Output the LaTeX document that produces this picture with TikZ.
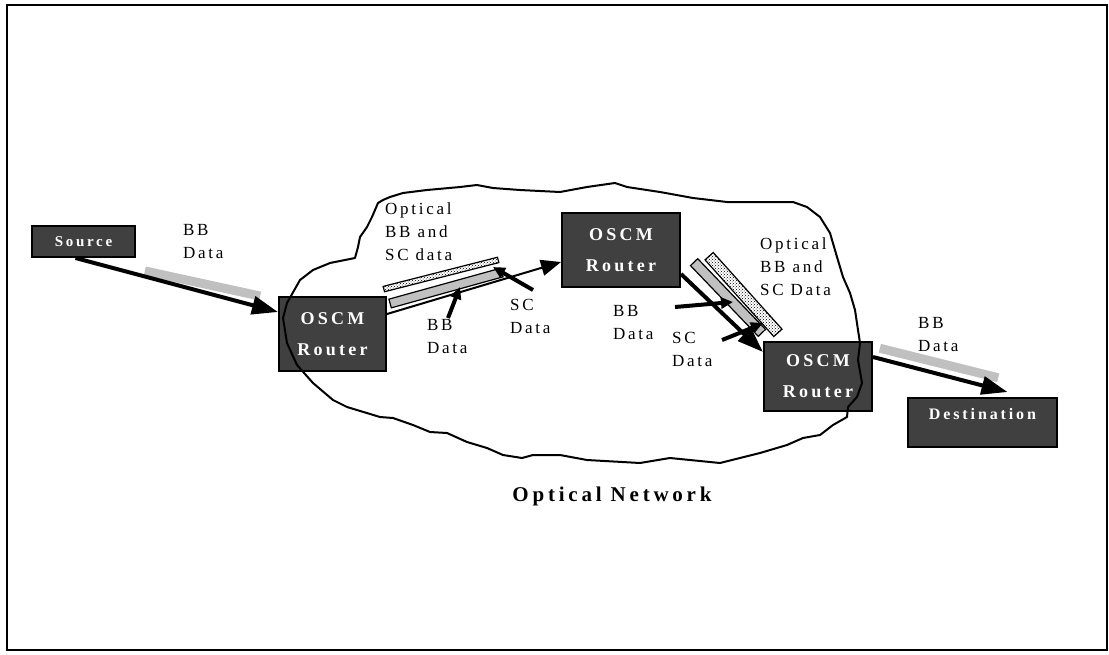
\documentclass[tikz,border=0pt]{standalone}
\usepackage{fontspec}
\setmainfont{Liberation Serif}
\newfontfamily\lblfont[LetterSpace=16]{Liberation Serif}
\newfontfamily\boxfont[LetterSpace=18]{Liberation Serif}
\usetikzlibrary{arrows.meta}
\usetikzlibrary{patterns}
\definecolor{boxgray}{HTML}{404040}
\definecolor{bargray}{HTML}{C0C0C0}

\begin{document}
\begin{tikzpicture}[x=1pt,y=-1pt,
  router/.style={draw=black, line width=2pt, fill=boxgray, text=white, inner sep=0pt, align=center, font=\boxfont\bfseries\fontsize{18}{31}\selectfont},
  lbl/.style={font=\lblfont\fontsize{17}{23}\selectfont, align=left, anchor=north west, inner sep=0pt},
  graybar/.style={fill=bargray, inner sep=0pt},
  plainbar/.style={draw=black, line width=1.2pt, fill=bargray, inner sep=0pt},
  dotbar/.style={draw=black, line width=1.2pt, pattern=crosshatch dots, pattern color=black, inner sep=0pt},
  fatarrow/.style={line width=4pt, -{Triangle[length=26pt,width=18pt]}},
  thinarrow/.style={line width=2pt, -{Triangle[length=20pt,width=16pt]}},
  smallarrow/.style={line width=4pt, -{Triangle[length=12pt,width=11pt]}}]
\useasboundingbox (0,0) rectangle (1109,654);
\draw[line width=1.5pt] (7,5) rectangle (1107,650);

% bars along the links
\node[graybar, minimum width=118pt, minimum height=9pt, rotate=-12.3] (bbin) at (202.5,283.5) {};
\node[graybar, minimum width=122pt, minimum height=9pt, rotate=-14] (bbout) at (939,363) {};
\node[dotbar, minimum width=118pt, minimum height=5.5pt, rotate=14.3] (mixa) at (441,274.5) {};
\node[plainbar, minimum width=116pt, minimum height=9pt, rotate=15.5] (bba) at (446,288) {};
\node[dotbar, minimum width=103pt, minimum height=11pt, rotate=-48.1] (mixb) at (743.5,294.5) {};
\node[plainbar, minimum width=98pt, minimum height=10pt, rotate=-46.2] (bbb) at (728,297.5) {};

% boxes
\node[router, font=\boxfont\bfseries\fontsize{15}{16}\selectfont, minimum width=103pt, minimum height=31pt] (src) at (83.5,241.5) {Source};
\node[router, minimum width=107pt, minimum height=74pt] (ra) at (332.5,334) {OSCM\\Router};
\node[router, minimum width=118pt, minimum height=74pt] (rb) at (621,250) {OSCM\\Router};
\node[router, minimum width=108pt, minimum height=69pt] (rc) at (818,376.5) {OSCM\\Router};
\node[router, font=\boxfont\bfseries\fontsize{16}{20}\selectfont, minimum width=149pt, text height=12pt, text depth=19pt, inner ysep=9pt] (dst) at (982.5,422.5) {Destination};

% links
\draw[fatarrow] ([xshift=-8pt]src.south) -- ([yshift=-16pt]ra.north west);
\draw[thinarrow] ([yshift=-18pt]ra.north east) -- ([yshift=-12pt]rb.west);
\draw[fatarrow] ([yshift=14pt]rb.south east) -- ([yshift=-11pt]rc.north west);
\draw[fatarrow] ([yshift=-16pt]rc.north east) -- ([xshift=25pt,yshift=5pt]dst.north);

% data feeds into the optical links
\coordinate (bbas) at (448,318);
\coordinate (bbae) at (460,287);
\coordinate (scas) at (533,290);
\coordinate (scae) at (493,267);
\coordinate (bbbs) at (675,307);
\coordinate (bbbe) at (733,302);
\coordinate (scbs) at (722,340);
\coordinate (scbe) at (763,323);
\draw[smallarrow] (bbas) -- (bbae);
\draw[smallarrow] (scas) -- (scae);
\draw[smallarrow] (bbbs) -- (bbbe);
\draw[smallarrow] (scbs) .. controls (742,332) .. (scbe);

% network outline
\draw[line width=2pt, line join=round] (283,318) -- (287,303) -- (300,280) -- (313,270) -- (330,263) -- (355,258) -- (358,247) -- (360,237) -- (367,227) -- (372,217) -- (375,210) -- (378,203) -- (383,200) -- (390,197) -- (403,193) -- (427,190) -- (460,187) -- (477,185) -- (493,188) -- (520,190) -- (560,192) -- (587,187) -- (615,183) -- (627,187) -- (660,192) -- (693,198) -- (727,202) -- (793,202) -- (807,207) -- (820,217) -- (830,233) -- (837,257) -- (843,277) -- (850,293) -- (855,310) -- (858,330) -- (860,343) -- (858,360) -- (862,383) -- (857,397) -- (848,407) -- (847,417) -- (833,425) -- (820,435) -- (803,438) -- (787,445) -- (760,453) -- (720,463) -- (670,458) -- (640,463) -- (587,460) -- (560,455) -- (533,455) -- (522,458) -- (503,455) -- (487,448) -- (467,442) -- (447,433) -- (430,432) -- (413,425) -- (393,418) -- (380,417) -- (347,407) -- (333,400) -- (313,383) -- (297,365) -- (287,343) -- cycle;

% labels
\node[lbl] (lbin) at (183,224) {BB\\Data};
\node[lbl] (lmixa) at (385,202) {Optical\\BB and\\SC data};
\node[lbl] (lbba) at (427,319) {BB\\Data};
\node[lbl] (lsca) at (510,299) {SC\\Data};
\node[lbl] (lmixb) at (760,237) {Optical\\BB and\\SC Data};
\node[lbl] (lbbb) at (613,305) {BB\\Data};
\node[lbl] (lscb) at (672,332) {SC\\Data};
\node[lbl] (lbout) at (918,317) {BB\\Data};
\node[font=\boxfont\bfseries\fontsize{21}{24}\selectfont] (net) at (612,496) {Optical Network};
\end{tikzpicture}
\end{document}
